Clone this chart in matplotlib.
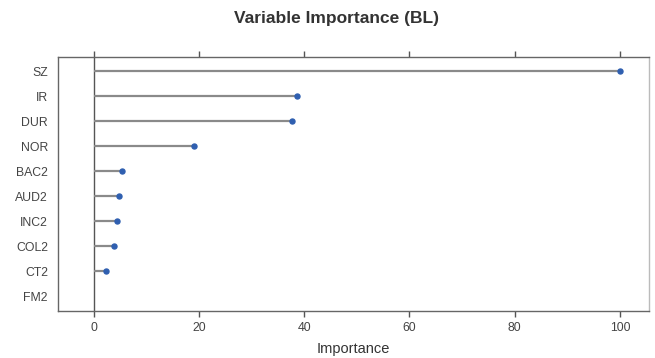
import matplotlib
matplotlib.use("Agg")
import matplotlib.pyplot as plt

plt.rcParams['font.family'] = ['Liberation Sans', 'DejaVu Sans']

variables = ["SZ", "IR", "DUR", "NOR", "BAC2", "AUD2", "INC2", "COL2", "CT2", "FM2"]
importance = [100, 38.7, 37.7, 19.1, 5.5, 4.9, 4.5, 3.95, 2.3, 0]
xticks = [0, 20, 40, 60, 80, 100]

fig = plt.figure(figsize=(6.55, 3.58), dpi=100)
ax = fig.add_axes([0.0881, 0.132, 0.9027, 0.710])

n = len(variables)
ypos = [n - i for i in range(n)]

ax.axvline(0, color='#555555', lw=1.0, zorder=1)
ax.hlines(ypos, 0, importance, color='#8a8a8a', lw=1.6, zorder=2)
ax.plot(importance[:-1], ypos[:-1], 'o', color='#2f5fb0', ms=3.6, zorder=3)

ax.set_xlim(-6.8, 105.5)
ax.set_ylim(0.42, n + 0.58)
ax.set_yticks(ypos)
ax.set_yticklabels(variables, fontsize=8.8, color='#444444')
ax.set_xticks(xticks)
ax.set_xticklabels([str(t) for t in xticks], fontsize=8.8, color='#444444')
ax.tick_params(axis='x', which='both', top=True, bottom=True, direction='out',
               length=4, width=1, color='#555555', pad=4)
ax.tick_params(axis='y', left=False, length=0, pad=7)

for name, s in ax.spines.items():
    s.set_color('#666666')
    s.set_linewidth(1.0)
ax.spines['right'].set_color('#bbbbbb')

ax.set_xlabel("Importance", fontsize=10.5, color='#333333', labelpad=6)
fig.suptitle("Variable Importance (BL)", fontsize=12.5, fontweight='bold',
             color='#333333', x=0.513, y=0.968)

fig.savefig("out.png", dpi=100)
